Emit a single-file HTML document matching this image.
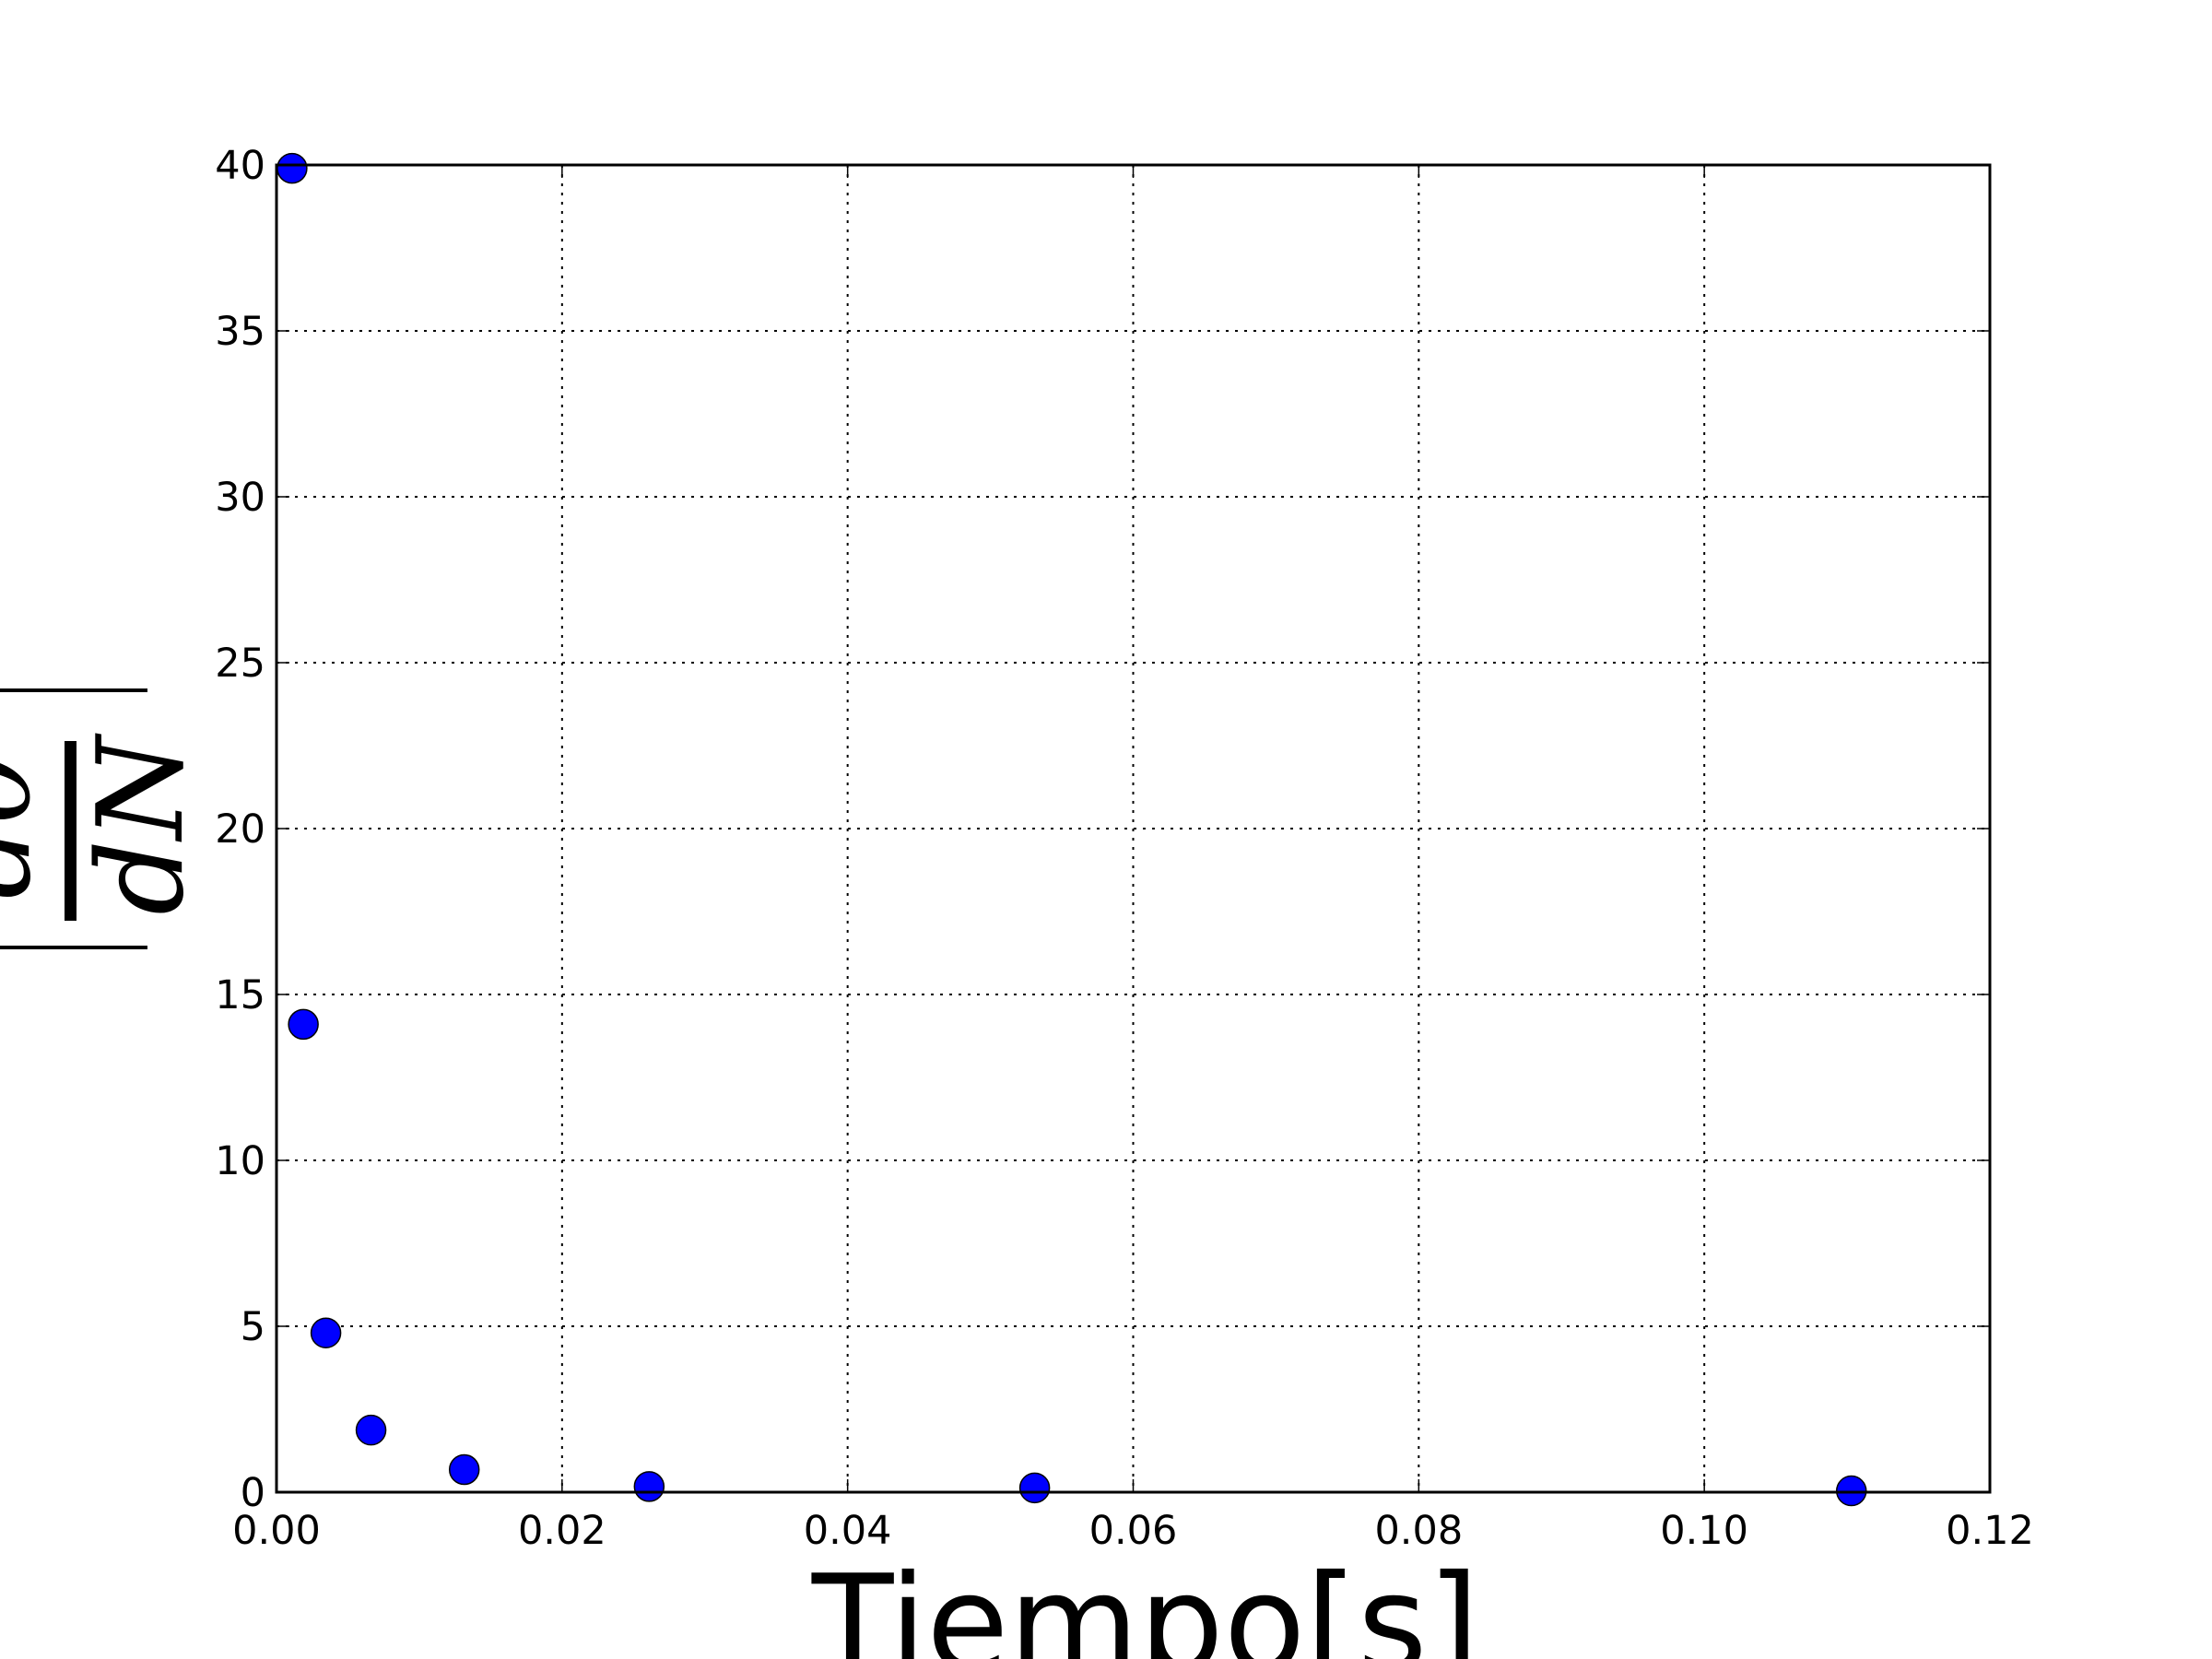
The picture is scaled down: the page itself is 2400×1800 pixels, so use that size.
<!DOCTYPE html>
<html><head><meta charset="utf-8"><style>body{margin:0;background:#fff}svg{display:block}</style></head>
<body>
<svg id="chart" width="2400" height="1800" xmlns="http://www.w3.org/2000/svg" font-family="DejaVu Sans, Liberation Sans, sans-serif">
<rect width="2400" height="1800" fill="#fff"/>
<g id="grid"></g>
<g id="ticks"></g>
<g id="points"></g>
<rect x="300" y="179" width="1859" height="1440" fill="none" stroke="#000" stroke-width="3"/>
<text x="1243" y="1812" font-size="145" text-anchor="middle">Tiempo[s]</text>
<g transform="translate(0,-9)">
<rect x="0" y="756" width="160" height="4" fill="#000"/>
<rect x="0" y="1035" width="160" height="4" fill="#000"/>
<rect x="70" y="813" width="13" height="195" fill="#000"/>
<text x="197" y="905" font-size="128" font-style="italic" font-family="DejaVu Serif, Liberation Serif, serif" text-anchor="middle" transform="rotate(-90 197 905)">dN</text>
<text x="31" y="905" font-size="128" font-style="italic" font-family="DejaVu Serif, Liberation Serif, serif" text-anchor="middle" transform="rotate(-90 31 905)">dθ</text>
</g>
</svg>
<script>
const xTicks=[0,0.02,0.04,0.06,0.08,0.10,0.12];
const xTickLabels=["0.00","0.02","0.04","0.06","0.08","0.10","0.12"];
const yTicks=[0,5,10,15,20,25,30,35,40];
const xValues=[0.00109,0.00188,0.00346,0.00662,0.01315,0.0261,0.0531,0.1103];
const yValues=[39.9,14.1,4.8,1.87,0.68,0.17,0.13,0.04];
const L=300,R=2159,T=179,B=1619;
const sx=v=>L+(v-0)/(0.12)*(R-L);
const sy=v=>B-(v/40)*(B-T);
const NS="http://www.w3.org/2000/svg";
const grid=document.getElementById('grid'),ticks=document.getElementById('ticks'),pts=document.getElementById('points');
function mk(tag,attrs,parent){const e=document.createElementNS(NS,tag);for(const k in attrs)e.setAttribute(k,attrs[k]);parent.appendChild(e);return e;}
xTicks.forEach((v,i)=>{const x=sx(v);
 if(i>0&&i<xTicks.length-1){const g=mk('line',{x1:x,x2:x,y1:T,y2:B,stroke:'#000','stroke-width':2,'stroke-dasharray':'3,7'},grid);
 
 }
 const t1=mk('line',{x1:x,x2:x,y1:B,y2:B-14,stroke:'#000','stroke-width':1.5},ticks);
 
 
 const t2=mk('line',{x1:x,x2:x,y1:T,y2:T+14,stroke:'#000','stroke-width':1.5},ticks);
 
 
 const lb=mk('text',{x:x,y:B+56,'font-size':43,'text-anchor':'middle'},ticks);lb.textContent=xTickLabels[i];
 
 
});
yTicks.forEach((v,i)=>{const y=sy(v);
 if(i>0&&i<yTicks.length-1){const g=mk('line',{x1:L,x2:R,y1:y,y2:y,stroke:'#000','stroke-width':2,'stroke-dasharray':'3,7'},grid);
 
 }
 const t1=mk('line',{x1:L,x2:L+14,y1:y,y2:y,stroke:'#000','stroke-width':1.5},ticks);
 
 
 const t2=mk('line',{x1:R,x2:R-14,y1:y,y2:y,stroke:'#000','stroke-width':1.5},ticks);
 
 
 const lb=mk('text',{x:L-12,y:y+15,'font-size':43,'text-anchor':'end'},ticks);lb.textContent=String(v);
 
 
});
xValues.forEach((v,i)=>{const c=mk('circle',{cx:sx(v),cy:sy(yValues[i]),r:16,fill:'#0000ff',stroke:'#000','stroke-width':1.5},pts);
 
 
});
</script>
</body></html>
